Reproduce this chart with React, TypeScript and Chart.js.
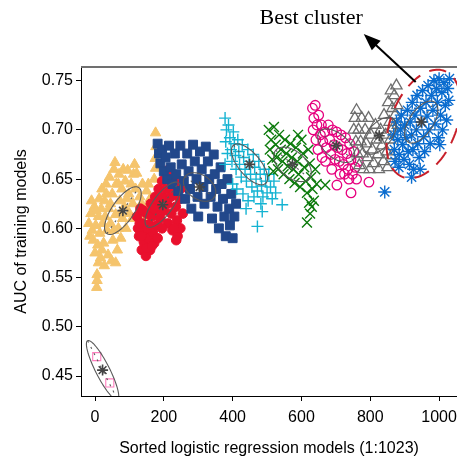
import React, { useEffect, useRef } from "react";
import { Chart, registerables } from "chart.js";
Chart.register(...registerables);

type P = [number, number];

const xTicks = [0, 200, 400, 600, 800, 1000];
const yTicks = [0.45, 0.5, 0.55, 0.6, 0.65, 0.7, 0.75];

const orangeTriangles: P[] = [
  [-18, 0.605], [-12, 0.615], [-8, 0.598], [-5, 0.588], [-2, 0.622], [0, 0.575], [2, 0.603], [5, 0.54], [6, 0.547], [6, 0.553],
  [8, 0.583], [10, 0.612], [12, 0.63], [14, 0.595], [16, 0.57], [18, 0.62], [20, 0.64], [22, 0.605], [25, 0.585], [28, 0.628],
  [30, 0.612], [32, 0.645], [35, 0.598], [38, 0.573], [40, 0.62], [42, 0.652], [45, 0.605], [48, 0.567], [50, 0.635], [52, 0.588],
  [55, 0.66], [58, 0.667], [60, 0.614], [62, 0.645], [65, 0.578], [68, 0.6], [70, 0.655], [72, 0.628], [75, 0.59], [78, 0.64],
  [80, 0.61], [82, 0.66], [85, 0.622], [88, 0.648], [90, 0.6], [95, 0.659], [98, 0.635], [100, 0.615], [105, 0.645], [110, 0.625],
  [112, 0.655], [118, 0.64], [121, 0.656], [125, 0.612], [130, 0.632], [138, 0.645], [145, 0.62], [150, 0.638], [160, 0.63],
  [172, 0.65], [176, 0.661], [175, 0.671], [177, 0.683], [176, 0.697],
  [-15, 0.592], [-10, 0.628], [3, 0.618], [10, 0.565], [20, 0.578], [27, 0.562], [33, 0.635], [45, 0.625], [55, 0.598], [60, 0.565],
  [68, 0.645], [75, 0.615], [92, 0.63], [108, 0.61], [115, 0.665], [135, 0.625], [140, 0.61], [155, 0.645], [165, 0.62],
];

const redCircles: P[] = [
  [122, 0.612], [125, 0.6], [128, 0.592], [132, 0.62], [136, 0.578], [138, 0.605], [142, 0.586], [145, 0.598], [148, 0.572], [150, 0.615],
  [155, 0.59], [158, 0.604], [160, 0.578], [162, 0.625], [165, 0.612], [168, 0.596], [172, 0.585], [175, 0.632], [178, 0.618], [180, 0.603],
  [185, 0.64], [188, 0.625], [190, 0.61], [195, 0.648], [198, 0.632], [200, 0.618], [205, 0.655], [208, 0.64], [210, 0.625], [212, 0.605],
  [215, 0.66], [218, 0.648], [220, 0.632], [222, 0.615], [225, 0.598], [228, 0.652], [232, 0.64], [235, 0.622], [238, 0.608], [240, 0.592],
  [244, 0.645], [246, 0.63], [248, 0.6], [252, 0.641], [255, 0.615],
  [130, 0.605], [135, 0.592], [140, 0.618], [150, 0.58], [152, 0.6], [165, 0.582], [170, 0.62], [182, 0.59], [195, 0.6], [230, 0.6],
  [236, 0.588], [192, 0.625],
];

const navySquares: P[] = [
  [182, 0.686], [186, 0.676], [190, 0.666], [195, 0.68], [200, 0.658], [205, 0.672], [210, 0.65], [215, 0.684], [220, 0.662], [225, 0.645],
  [232, 0.676], [236, 0.655], [242, 0.638], [248, 0.684], [252, 0.665], [258, 0.648], [262, 0.63], [268, 0.676], [272, 0.658], [276, 0.64],
  [280, 0.62], [285, 0.685], [290, 0.668], [295, 0.65], [298, 0.632], [300, 0.612], [305, 0.678], [310, 0.66], [315, 0.642], [318, 0.625],
  [322, 0.683], [328, 0.668], [332, 0.65], [336, 0.632], [340, 0.61], [345, 0.675], [348, 0.655], [352, 0.64], [356, 0.622], [360, 0.6],
  [365, 0.662], [368, 0.645], [372, 0.63], [376, 0.612], [380, 0.592], [385, 0.65], [390, 0.62], [392, 0.603], [396, 0.635], [400, 0.59],
  [405, 0.612], [410, 0.625],
];

const cyanPlus: P[] = [
  [378, 0.712], [382, 0.7], [380, 0.688], [385, 0.676], [378, 0.665], [388, 0.705], [392, 0.692], [395, 0.68], [398, 0.668], [402, 0.698],
  [405, 0.686], [408, 0.674], [410, 0.66], [415, 0.69], [418, 0.678], [420, 0.665], [425, 0.652], [428, 0.685], [432, 0.672], [436, 0.66],
  [440, 0.648], [444, 0.68], [448, 0.668], [452, 0.655], [456, 0.642], [460, 0.675], [464, 0.662], [468, 0.65], [472, 0.638], [476, 0.668],
  [480, 0.655], [484, 0.643], [488, 0.632], [492, 0.66], [496, 0.648], [500, 0.636], [505, 0.655], [510, 0.642], [515, 0.63], [520, 0.648],
  [525, 0.636], [400, 0.645], [412, 0.64], [430, 0.635], [445, 0.628], [439, 0.62], [482, 0.625], [486, 0.617], [544, 0.624], [472, 0.602],
  [462, 0.632],
];

const greenCross: P[] = [
  [505, 0.7], [512, 0.69], [508, 0.68], [515, 0.67], [520, 0.703], [525, 0.685], [528, 0.672], [532, 0.66], [535, 0.695], [540, 0.68],
  [545, 0.668], [548, 0.655], [552, 0.69], [556, 0.676], [560, 0.663], [565, 0.65], [568, 0.686], [572, 0.672], [576, 0.66], [580, 0.646],
  [584, 0.682], [588, 0.668], [592, 0.655], [596, 0.642], [600, 0.69], [604, 0.676], [608, 0.662], [612, 0.648], [616, 0.636], [620, 0.68],
  [624, 0.666], [628, 0.652], [632, 0.64], [636, 0.628], [640, 0.66], [644, 0.645], [630, 0.622], [625, 0.615], [616, 0.606], [622, 0.626],
  [669, 0.644], [518, 0.658], [590, 0.695],
];

const magentaCircles: P[] = [
  [632, 0.722], [636, 0.712], [640, 0.725], [634, 0.7], [645, 0.705], [642, 0.69], [650, 0.715], [655, 0.695], [648, 0.68], [658, 0.705],
  [662, 0.688], [660, 0.672], [668, 0.698], [672, 0.682], [670, 0.668], [678, 0.705], [682, 0.69], [685, 0.675], [690, 0.7], [695, 0.685],
  [698, 0.67], [702, 0.698], [706, 0.682], [710, 0.668], [715, 0.695], [718, 0.68], [722, 0.665], [728, 0.692], [732, 0.676], [735, 0.66],
  [740, 0.686], [744, 0.67], [748, 0.655], [752, 0.678], [756, 0.662], [760, 0.65], [765, 0.668], [738, 0.65], [725, 0.655], [703, 0.644],
  [744, 0.636], [796, 0.647], [688, 0.66], [712, 0.655],
];

const grayTriangles: P[] = [
  [752, 0.7], [755, 0.712], [758, 0.688], [760, 0.72], [762, 0.676], [766, 0.7], [768, 0.664], [772, 0.688], [775, 0.712], [778, 0.676],
  [780, 0.66], [785, 0.7], [788, 0.686], [792, 0.672], [795, 0.712], [798, 0.66], [802, 0.695], [806, 0.68], [810, 0.666], [815, 0.705],
  [818, 0.69], [822, 0.675], [825, 0.66], [830, 0.7], [834, 0.684], [838, 0.668], [840, 0.715], [845, 0.695], [848, 0.678], [850, 0.662],
  [852, 0.728], [856, 0.708], [858, 0.69], [860, 0.74], [864, 0.722], [866, 0.702], [870, 0.735], [872, 0.715], [876, 0.745], [878, 0.725],
  [880, 0.705], [862, 0.674],
];

const blueStars: P[] = [
  [868, 0.695], [870, 0.68], [872, 0.668], [876, 0.708], [880, 0.69], [884, 0.675], [888, 0.7], [890, 0.715], [894, 0.685], [898, 0.67],
  [900, 0.705], [904, 0.692], [908, 0.72], [910, 0.678], [914, 0.665], [916, 0.708], [920, 0.695], [922, 0.728], [924, 0.68], [926, 0.66],
  [930, 0.715], [934, 0.7], [936, 0.735], [938, 0.686], [942, 0.672], [946, 0.722], [950, 0.708], [952, 0.74], [955, 0.693], [958, 0.678],
  [962, 0.728], [965, 0.714], [968, 0.745], [970, 0.7], [974, 0.686], [978, 0.735], [982, 0.72], [985, 0.75], [988, 0.706], [992, 0.742],
  [995, 0.728], [998, 0.692], [1000, 0.752], [1004, 0.715], [1008, 0.738], [1010, 0.7], [1014, 0.748], [1018, 0.725], [1022, 0.71], [1025, 0.742],
  [1028, 0.73], [1030, 0.752], [1002, 0.685], [920, 0.652], [883, 0.662], [842, 0.637], [945, 0.66],
];

const pinkSquares: P[] = [[5, 0.4697], [43, 0.443]];

// cluster centres (orange, red, navy, cyan, green, magenta, gray, blue, pink)
const clusterCenters: P[] = [
  [81, 0.618], [197, 0.624], [304, 0.642], [449, 0.665], [574, 0.665], [701, 0.684], [826, 0.694], [948, 0.708], [22, 0.456],
];
// ellipse conjugate semi-axes in data units: [ax, ay, bx, by]
const ellipseAxes: [number, number, number, number][] = [
  [46.5, 0.0234, -26.1, 0.0064],
  [46.0, 0.0222, -23.4, 0.006],
  [42.6, -0.0105, 20.0, 0.01],
  [46.5, -0.0195, 24.4, 0.0072],
  [48.8, -0.0143, 24.2, 0.0101],
  [48.8, -0.0143, 22.3, 0.0093],
  [40.9, 0.0171, -26.6, 0.0078],
  [38.8, 0.0202, -28.8, 0.0068],
  [43.4, -0.0299, 18.0, 0.0032],
];

const bestClusterCenter: P = [955, 0.706];
const bestClusterAxes: [number, number, number, number] = [61.8, 0.0537, -88.5, 0.0126];
const annotationText = "Best cluster";
const annotationPos: P = [628, 0.8137];
const arrowFrom: P = [932, 0.7487];
const arrowTo: P = [781, 0.7975];

const SANS = "'Liberation Sans', Arial, sans-serif";

const overlay = {
  id: "overlay",
  afterDatasetsDraw(chart: any) {
    const { ctx, chartArea, scales } = chart;
    const xs = scales.x, ys = scales.y;
    const px = (vx: number, vy: number) => [xs.getPixelForValue(vx), ys.getPixelForValue(vy)];
    ctx.save();
    ctx.beginPath();
    ctx.rect(chartArea.left, chartArea.top, chartArea.right - chartArea.left, chartArea.bottom - chartArea.top);
    ctx.clip();
    clusterCenters.forEach((c, i) => {
      const [ax, ay, bx, by] = ellipseAxes[i];
      ctx.beginPath();
      for (let k = 0; k <= 90; k++) {
        const t = (k / 90) * Math.PI * 2;
        const [X, Y] = px(c[0] + ax * Math.cos(t) + bx * Math.sin(t), c[1] + ay * Math.cos(t) + by * Math.sin(t));
        if (k === 0) ctx.moveTo(X, Y); else ctx.lineTo(X, Y);
      }
      ctx.strokeStyle = "#5a5a5a";
      ctx.lineWidth = 1.1;
      ctx.setLineDash([]);
      ctx.stroke();
      const [x1, y1] = px(c[0] - ax, c[1] - ay);
      const [x2, y2] = px(c[0] + ax, c[1] + ay);
      ctx.beginPath();
      ctx.moveTo(x1, y1);
      ctx.lineTo(x2, y2);
      ctx.setLineDash([2, 5]);
      ctx.stroke();
    });
    ctx.restore();
  },
  afterDraw(chart: any) {
    const { ctx, chartArea, scales } = chart;
    const xs = scales.x, ys = scales.y;
    const px = (vx: number, vy: number) => [xs.getPixelForValue(vx), ys.getPixelForValue(vy)];
    ctx.save();
    // top frame line
    ctx.strokeStyle = "#707070";
    ctx.lineWidth = 2;
    ctx.beginPath();
    ctx.moveTo(chartArea.left, chartArea.top);
    ctx.lineTo(chartArea.right, chartArea.top);
    ctx.stroke();
    // best cluster ellipse
    const [ax, ay, bx, by] = bestClusterAxes;
    const c = bestClusterCenter;
    ctx.beginPath();
    for (let k = 0; k <= 120; k++) {
      const t = (k / 120) * Math.PI * 2;
      const [X, Y] = px(c[0] + ax * Math.cos(t) + bx * Math.sin(t), c[1] + ay * Math.cos(t) + by * Math.sin(t));
      if (k === 0) ctx.moveTo(X, Y); else ctx.lineTo(X, Y);
    }
    ctx.strokeStyle = "#C8202A";
    ctx.lineWidth = 2;
    ctx.setLineDash([16, 10]);
    ctx.stroke();
    ctx.setLineDash([]);
    // arrow
    const [x1, y1] = px(arrowFrom[0], arrowFrom[1]);
    const [x2, y2] = px(arrowTo[0], arrowTo[1]);
    const ang = Math.atan2(y2 - y1, x2 - x1);
    const hl = 17, hw = 6.5;
    const bxp = x2 - hl * Math.cos(ang), byp = y2 - hl * Math.sin(ang);
    ctx.strokeStyle = "#000";
    ctx.lineWidth = 2;
    ctx.beginPath();
    ctx.moveTo(x1, y1);
    ctx.lineTo(bxp + 2 * Math.cos(ang), byp + 2 * Math.sin(ang));
    ctx.stroke();
    ctx.fillStyle = "#000";
    ctx.beginPath();
    ctx.moveTo(x2, y2);
    ctx.lineTo(bxp - hw * Math.sin(ang), byp + hw * Math.cos(ang));
    ctx.lineTo(bxp + hw * Math.sin(ang), byp - hw * Math.cos(ang));
    ctx.closePath();
    ctx.fill();
    // text
    const [tx, ty] = px(annotationPos[0], annotationPos[1]);
    ctx.font = "22px 'Liberation Serif', 'Times New Roman', serif";
    ctx.textAlign = "center";
    ctx.textBaseline = "middle";
    ctx.fillText(annotationText, tx, ty);
    ctx.restore();
  },
};

const toXY = (arr: P[]) => arr.map(([x, y]) => ({ x, y }));

export default function App() {
  const ref = useRef<HTMLCanvasElement | null>(null);
  useEffect(() => {
    if (!ref.current) return;
    const N = 10;
    const chart = new Chart(ref.current, {
      type: "scatter",
      data: {
        datasets: [
          { label: "c1", data: toXY(orangeTriangles), pointStyle: "triangle", pointRadius: 6, backgroundColor: "#F5C46C", borderColor: "#F5C46C", borderWidth: 1, order: N - 1 },
          { label: "c2", data: toXY(redCircles), pointStyle: "circle", pointRadius: 4.8, backgroundColor: "#E9102D", borderColor: "#E9102D", borderWidth: 1, order: N - 2 },
          { label: "c3", data: toXY(navySquares), pointStyle: "rect", pointRadius: 6.3, backgroundColor: "#22488B", borderColor: "#22488B", borderWidth: 1, order: N - 3 },
          { label: "c4", data: toXY(cyanPlus), pointStyle: "cross", pointRadius: 6, backgroundColor: "#14B3D2", borderColor: "#14B3D2", borderWidth: 1.4, order: N - 4 },
          { label: "c5", data: toXY(greenCross), pointStyle: "crossRot", pointRadius: 7, backgroundColor: "#0B7A0B", borderColor: "#0B7A0B", borderWidth: 1.4, order: N - 5 },
          { label: "c6", data: toXY(magentaCircles), pointStyle: "circle", pointRadius: 4.8, backgroundColor: "rgba(0,0,0,0)", borderColor: "#E6007E", borderWidth: 1.3, order: N - 6 },
          { label: "c7", data: toXY(grayTriangles), pointStyle: "triangle", pointRadius: 6.5, backgroundColor: "rgba(0,0,0,0)", borderColor: "#6E6E6E", borderWidth: 1.3, order: N - 7 },
          { label: "c8", data: toXY(blueStars), pointStyle: "star", pointRadius: 6.5, backgroundColor: "#0A6CCF", borderColor: "#0A6CCF", borderWidth: 1.4, order: N - 8 },
          { label: "c9", data: toXY(pinkSquares), pointStyle: "rect", pointRadius: 5.7, backgroundColor: "rgba(0,0,0,0)", borderColor: "#FF7FBF", borderWidth: 1.1, order: N - 9 },
          { label: "centers", data: toXY(clusterCenters), pointStyle: "star", pointRadius: 5.5, backgroundColor: "#444", borderColor: "#444", borderWidth: 1.6, order: 0 },
        ],
      },
      options: {
        animation: false,
        responsive: false,
        devicePixelRatio: 1,
        layout: { autoPadding: false, padding: { top: 67, left: 0, right: 0, bottom: 0 } },
        plugins: { legend: { display: false }, tooltip: { enabled: false } },
        events: [],
        scales: {
          x: {
            type: "linear",
            min: -40.7,
            max: 1052,
            afterBuildTicks: (s: any) => { s.ticks = xTicks.map((v) => ({ value: v })); },
            afterFit: (s: any) => { s.height = 65; s.paddingLeft = 0; s.paddingRight = 0; },
            grid: { display: true, drawOnChartArea: false, drawTicks: true, tickLength: 5, color: "#000", lineWidth: 1 },
            border: { display: true, color: "#000", width: 1 },
            ticks: { color: "#000", font: { family: SANS, size: 16 }, padding: 7, maxRotation: 0, autoSkip: false, callback: (v: any) => String(v) },
            title: { display: true, text: "Sorted logistic regression models (1:1023)", color: "#000", font: { family: SANS, size: 16 }, padding: { top: 0, bottom: 3 } },
          },
          y: {
            type: "linear",
            min: 0.4297,
            max: 0.7639,
            afterBuildTicks: (s: any) => { s.ticks = yTicks.map((v) => ({ value: v })); },
            afterFit: (s: any) => { s.width = 81; s.paddingTop = 0; s.paddingBottom = 0; },
            grid: { display: true, drawOnChartArea: false, drawTicks: true, tickLength: 5, color: "#000", lineWidth: 1 },
            border: { display: true, color: "#000", width: 1 },
            ticks: { color: "#000", font: { family: SANS, size: 16 }, padding: 3, autoSkip: false, callback: (v: any) => Number(v).toFixed(2) },
            title: { display: true, text: "AUC of training models", color: "#000", font: { family: SANS, size: 16 }, padding: { top: 12, bottom: 0 } },
          },
        },
      },
      plugins: [overlay],
    } as any);
    return () => chart.destroy();
  }, []);
  return (
    <div style={{ position: "absolute", left: 0, top: 0, width: 457, height: 461, background: "#fff" }}>
      <canvas ref={ref} width={457} height={461} style={{ display: "block" }} />
    </div>
  );
}
